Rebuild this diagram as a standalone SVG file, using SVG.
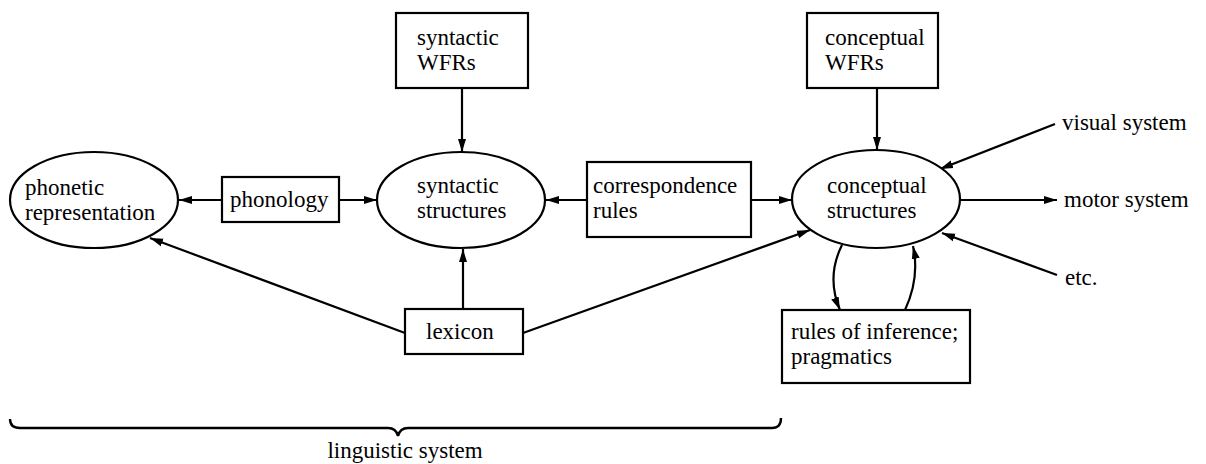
<svg xmlns="http://www.w3.org/2000/svg" width="1206" height="464" viewBox="0 0 1206 464">
<defs>
<marker id="ah" markerUnits="userSpaceOnUse" markerWidth="14" markerHeight="10" refX="13" refY="5" orient="auto">
<path d="M0,1 L13,5 L0,9 Z" fill="#000"/>
</marker>
<style>
text{font-family:"Liberation Serif","Times New Roman",serif;font-size:23px;fill:#000}
.b{fill:#fff;stroke:#000;stroke-width:2.2}
.c{fill:none;stroke:#000;stroke-width:2.2;marker-end:url(#ah)}
.br{fill:none;stroke:#000;stroke-width:2.4}
</style>
</defs>
<rect width="1206" height="464" fill="#fff"/>
<g id="connectors">
<line class="c" x1="222" y1="200" x2="179" y2="200"/>
<line class="c" x1="339" y1="200" x2="377" y2="200"/>
<line class="c" x1="587" y1="200" x2="546" y2="200"/>
<line class="c" x1="751" y1="200" x2="792" y2="200"/>
<line class="c" x1="462" y1="88" x2="462" y2="152"/>
<line class="c" x1="877" y1="88" x2="877" y2="150"/>
<line class="c" x1="463" y1="309" x2="463" y2="249"/>
<line class="c" x1="405" y1="333" x2="150" y2="238"/>
<line class="c" x1="523" y1="333" x2="810" y2="230"/>
<line class="c" x1="1055" y1="124" x2="940" y2="169"/>
<line class="c" x1="960" y1="200" x2="1057" y2="200"/>
<line class="c" x1="1057" y1="275" x2="942" y2="233"/>
<path class="c" d="M842,245 Q826,277 840,310"/>
<path class="c" d="M905,310 Q920,278 913,246"/>
</g>
<g id="phonetic">
<ellipse class="b" cx="94" cy="200" rx="84" ry="48"/>
<text x="25" y="195">phonetic</text>
<text x="25" y="220">representation</text>
</g>
<g id="phonology">
<rect class="b" x="222" y="177" width="117" height="45"/>
<text x="230" y="207">phonology</text>
</g>
<g id="syntactic-wfrs">
<rect class="b" x="396" y="13" width="132" height="75"/>
<text x="417" y="45">syntactic</text>
<text x="417" y="70">WFRs</text>
</g>
<g id="syntactic-structures">
<ellipse class="b" cx="461" cy="200" rx="84" ry="48"/>
<text x="417" y="193">syntactic</text>
<text x="417" y="218">structures</text>
</g>
<g id="correspondence">
<rect class="b" x="587" y="162" width="164" height="75"/>
<text x="593" y="193">correspondence</text>
<text x="593" y="218">rules</text>
</g>
<g id="conceptual-wfrs">
<rect class="b" x="807" y="13" width="131" height="75"/>
<text x="825" y="45">conceptual</text>
<text x="825" y="70">WFRs</text>
</g>
<g id="conceptual-structures">
<ellipse class="b" cx="876" cy="199" rx="84" ry="49"/>
<text x="827" y="193">conceptual</text>
<text x="827" y="218">structures</text>
</g>
<g id="lexicon">
<rect class="b" x="405" y="309" width="118" height="45"/>
<text x="426" y="339">lexicon</text>
</g>
<g id="inference">
<rect class="b" x="782" y="310" width="188" height="73"/>
<text x="791" y="339">rules of inference;</text>
<text x="791" y="364">pragmatics</text>
</g>
<g id="visual"><text x="1062" y="130">visual system</text></g>
<g id="motor"><text x="1064" y="207">motor system</text></g>
<g id="etc"><text x="1065" y="285">etc.</text></g>
<g id="linguistic-system">
<path class="br" d="M10,419 Q10,428 20,428 L388,428 Q396,428 398,436 Q400,428 408,428 L772,428 Q781,428 781,418"/>
<text x="405" y="458" text-anchor="middle">linguistic system</text>
</g>
</svg>
